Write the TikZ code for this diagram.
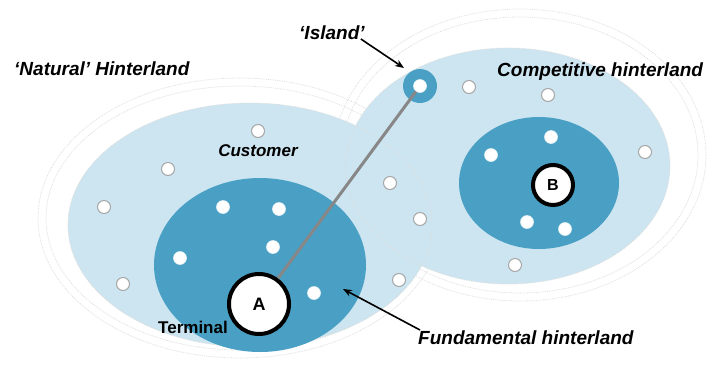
\documentclass[tikz,border=0pt]{standalone}
\usepackage{fontspec}
\setmainfont{Liberation Sans}
\usetikzlibrary{arrows.meta}
\definecolor{lightbl}{RGB}{204,229,240}
\definecolor{darkbl}{RGB}{74,160,196}
\definecolor{faint}{RGB}{222,222,222}
\definecolor{linegr}{RGB}{135,135,135}
\tikzset{
  lab/.style={font=\bfseries\itshape\fontsize{19}{21}\selectfont, inner sep=0pt},
  smalllab/.style={font=\bfseries\itshape\fontsize{17}{19}\selectfont, inner sep=0pt},
  dotl/.style={circle, fill=white, draw=gray!70, line width=1pt, minimum size=13pt, inner sep=0pt},
  dotd/.style={circle, fill=white, draw=white!85!darkbl, line width=0.6pt, minimum size=13pt, inner sep=0pt},
  term/.style={circle, fill=white, draw=black, line width=4pt, inner sep=0pt},
  faintring/.style={draw=faint, line width=0.8pt, densely dotted},
  arr/.style={-{Stealth[length=9pt,width=7pt]}, line width=1.6pt, black}
}
\begin{document}
\begin{tikzpicture}[x=1pt,y=-1pt]
\useasboundingbox (0,0) rectangle (712,365);
\fill[white] (0,0) rectangle (712,365);
% faint outer rings
\draw[faintring] (240,218) ellipse [x radius=202, y radius=140];
\draw[faintring] (240,218) ellipse [x radius=194, y radius=132];
\draw[faintring] (520,155) ellipse [x radius=186, y radius=146];
\draw[faintring] (520,155) ellipse [x radius=178, y radius=138];
% light ellipses
\fill[lightbl] (250,225) ellipse [x radius=182, y radius=122];
\fill[lightbl] (508,166) ellipse [x radius=162, y radius=118];
\draw[faintring] (508,166) ellipse [x radius=162, y radius=118];
\draw[faintring] (250,225) ellipse [x radius=182, y radius=122];
% dark ellipses
\fill[darkbl] (260,265) ellipse [x radius=106, y radius=87];
\fill[darkbl] (539,183) ellipse [x radius=80, y radius=66];
% island
\node[circle, fill=darkbl, minimum size=34pt, inner sep=0pt] (island) at (420,86) {};
\node[dotd] (islanddot) at (420,86) {};
% terminals
\node[term, minimum size=60pt, font=\bfseries\fontsize{18}{20}\selectfont] (A) at (259,304) {A};
\node[term, minimum size=40pt, font=\bfseries\fontsize{16}{18}\selectfont] (B) at (553,185) {B};
\draw[linegr, line width=3pt] (A) -- (islanddot);
% dots in light areas
\foreach \p/\n in {(258,131)/l1,(168,169)/l2,(104,207)/l3,(123,284)/l4,(390,183)/l5,(420,219)/l6,(399,280)/l7,(469,87)/l8,(548,95)/l9,(645,152)/l10,(515,265)/l11}
  \node[dotl] (\n) at \p {};
% dots in dark areas
\foreach \p/\n in {(223,207)/d1,(279,209)/d2,(273,247)/d3,(180,258)/d4,(314,293)/d5,(551,137)/d6,(491,155)/d7,(527,222)/d8,(565,229)/d9}
  \node[dotd] (\n) at \p {};
% labels
\node[lab, anchor=west] (nat) at (14,69) {‘Natural’ Hinterland};
\node[lab, anchor=west] (isl) at (299,33) {‘Island’};
\node[lab, anchor=west] (comp) at (497,72) {Competitive hinterland};
\node[smalllab] (cust) at (258,151) {Customer};
\node[font=\bfseries\fontsize{17}{19}\selectfont, inner sep=0pt, anchor=east] (termlab) at (228,327) {Terminal};
\node[lab, anchor=west] (fund) at (418,338) {Fundamental hinterland};
% arrows
\coordinate (islarr) at ([xshift=-4pt,yshift=-6pt]isl.east);
\coordinate (fundarr) at ([xshift=2pt,yshift=8pt]fund.west);
\draw[arr] (islarr) -- (404,68);
\draw[arr] (fundarr) -- (343,289);
\end{tikzpicture}
\end{document}
